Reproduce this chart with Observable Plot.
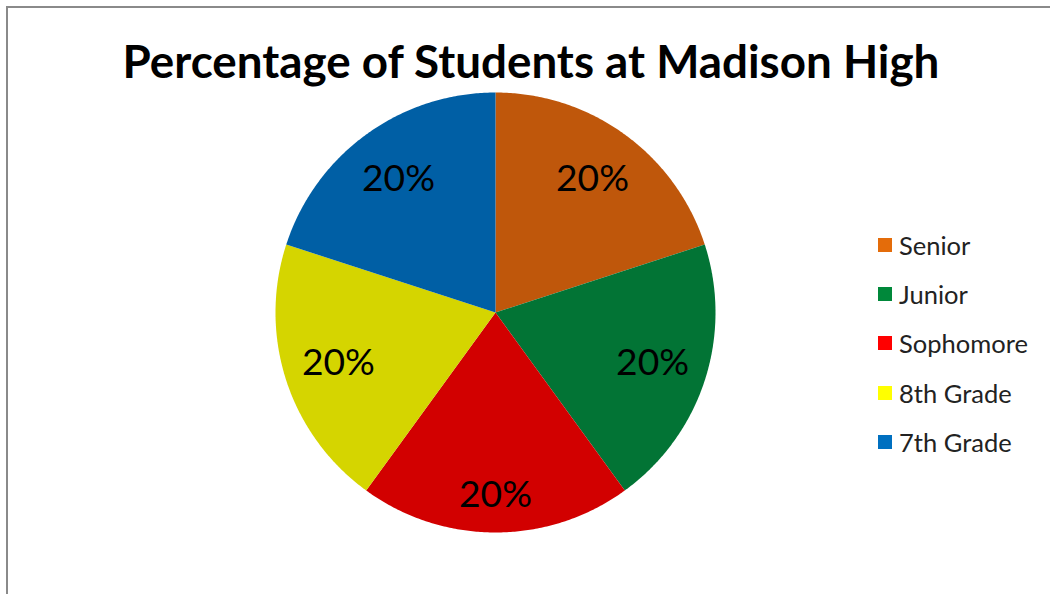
<!DOCTYPE html>
<html><head><meta charset="utf-8">
<script src="https://cdn.jsdelivr.net/npm/d3@7"></script>
<script src="https://cdn.jsdelivr.net/npm/@observablehq/plot@0.6"></script>
<style>
html,body{margin:0;padding:0;background:#fff;}
#wrap{position:relative;width:1050px;height:594px;overflow:hidden;font-family:Lato,"Open Sans",sans-serif;}
#frame{position:absolute;left:6px;top:6px;width:1200px;height:800px;border:2px solid #8a8a8a;box-sizing:border-box;}
#chart{position:absolute;left:0;top:0;}
#title{position:absolute;left:0;top:38px;width:1062px;text-align:center;font-weight:bold;color:#000;white-space:nowrap;line-height:1;}
#legend{position:absolute;left:878px;top:220px;}
.row{display:flex;align-items:center;height:49.3px;color:#222;white-space:nowrap;}
.sw{width:14px;height:14px;margin-right:7px;flex:none;}
</style></head>
<body>
<div id="wrap">
  <div id="frame"></div>
  <div id="chart"></div>
  <div id="title"></div>
  <div id="legend"></div>
</div>
<script>
const titleText = "Percentage of Students at Madison High";
const grades = ["Senior", "Junior", "Sophomore", "8th Grade", "7th Grade"];
const percents = [20, 20, 20, 20, 20];
const sliceColors = ["#BF570B", "#027435", "#D20000", "#D5D500", "#005FA5"];
const legendColors = ["#E46C0A", "#00883A", "#FF0000", "#FFFF00", "#0070C0"];

// measure helper to fit font size to target width
const ctx = document.createElement("canvas").getContext("2d");
function fitSize(text, weight, target) {
  ctx.font = `${weight} 100px Lato`;
  return 100 * target / ctx.measureText(text).width;
}

const data = grades.map((g, i) => ({grade: g, pct: percents[i]}));
const arcs = d3.pie().sort(null).value(d => d.pct)(data);

// polygon outline of each slice in unit-circle coordinates (y up)
const poly = [];
arcs.forEach(a => {
  poly.push({grade: a.data.grade, u: 0, v: 0});
  const n = Math.max(2, Math.ceil((a.endAngle - a.startAngle) / (Math.PI / 360)));
  for (let k = 0; k <= n; k++) {
    const t = a.startAngle + (a.endAngle - a.startAngle) * k / n;
    poly.push({grade: a.data.grade, u: Math.sin(t), v: Math.cos(t)});
  }
});
// label distance from centre (fraction of radius); bottom-most label sits lower, as Excel places it
function labelRadius(m) {
  const down = Math.max(0, -Math.cos(m)); // 1 at bottom, 0 at sides/top
  return 0.75 + 0.08 * Math.pow(down, 4);
}
const labels = arcs.map(a => {
  const m = (a.startAngle + a.endAngle) / 2, r = labelRadius(m);
  return {u: r * Math.sin(m), v: r * Math.cos(m), text: a.data.pct + "%"};
});

const R = 220, cx = 495, cy = 312, W = 1050, H = 594;
const labelSize = fitSize("20%", "normal", 73);

const chart = Plot.plot({
  width: W, height: H,
  margin: 0,
  x: {domain: [-cx / R, (W - cx) / R], axis: null},
  y: {domain: [-(H - cy) / R, cy / R], axis: null},
  color: {domain: grades, range: sliceColors},
  style: {background: "transparent", overflow: "visible"},
  marks: [
    Plot.line(poly, {x: "u", y: "v", z: "grade", fill: "grade", stroke: null, curve: "linear-closed"}),
    Plot.text(labels, {x: "u", y: "v", text: "text", fontSize: labelSize, fontFamily: "Lato", fill: "#000", lineAnchor: "middle", dy: 0})
  ]
});
document.getElementById("chart").appendChild(chart);

const t = document.getElementById("title");
t.textContent = titleText;
t.style.fontSize = fitSize(titleText, "bold", 818) + "px";

const legSize = fitSize("Sophomore", "normal", 129);
const leg = document.getElementById("legend");
grades.forEach((g, i) => {
  const row = document.createElement("div");
  row.className = "row";
  row.style.fontSize = legSize + "px";
  const sw = document.createElement("div");
  sw.className = "sw";
  sw.style.background = legendColors[i];
  const lab = document.createElement("span");
  lab.textContent = g;
  row.appendChild(sw); row.appendChild(lab);
  leg.appendChild(row);
});
</script>
</body></html>
